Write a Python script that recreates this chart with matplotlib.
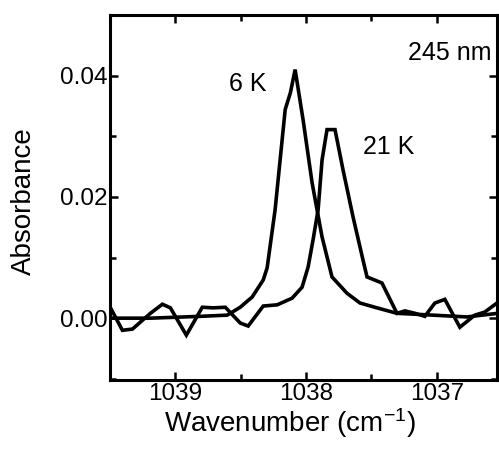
import numpy as np
import matplotlib.pyplot as plt
from matplotlib.ticker import MultipleLocator

plt.rcParams['font.family'] = ['Liberation Sans', 'DejaVu Sans']
plt.rcParams['mathtext.fontset'] = 'custom'
plt.rcParams['mathtext.rm'] = 'Liberation Sans'
plt.rcParams['mathtext.it'] = 'Liberation Sans'

# 6 K spectrum (wavenumber cm-1, absorbance)
wn_6k = [1039.496, 1039.191, 1038.809, 1038.603, 1038.504, 1038.412, 1038.328,
         1038.298, 1038.237, 1038.160, 1038.120, 1038.084, 1038.023, 1037.954,
         1037.878, 1037.802, 1037.687, 1037.588, 1037.458, 1037.305, 1037.031,
         1036.771, 1036.534]
abs_6k = [0.0000, 0.0000, 0.0003, 0.0005, 0.0018, 0.0035, 0.0063,
          0.0083, 0.0179, 0.0344, 0.0372, 0.0410, 0.0327, 0.0223,
          0.0134, 0.0068, 0.0041, 0.0025, 0.0017, 0.0008, 0.0005,
          0.0002, 0.0008]

# 21 K spectrum
wn_21k = [1039.496, 1039.405, 1039.328, 1039.191, 1039.099, 1039.038, 1038.916,
          1038.794, 1038.710, 1038.618, 1038.504, 1038.443, 1038.328, 1038.221,
          1038.107, 1038.031, 1037.985, 1037.947, 1037.908, 1037.878, 1037.840,
          1037.779, 1037.718, 1037.641, 1037.565, 1037.534, 1037.420, 1037.305,
          1037.244, 1037.168, 1037.092, 1037.015, 1036.939, 1036.824, 1036.710,
          1036.634, 1036.534]
abs_21k = [0.0017, -0.0020, -0.0018, 0.0008, 0.0023, 0.0017, -0.0028,
           0.0018, 0.0017, 0.0018, -0.0008, -0.0013, 0.0020, 0.0022,
           0.0033, 0.0051, 0.0084, 0.0129, 0.0179, 0.0261, 0.0311,
           0.0311, 0.0245, 0.0167, 0.0096, 0.0068, 0.0058, 0.0008,
           0.0012, 0.0008, 0.0003, 0.0025, 0.0031, -0.0015, 0.0005,
           0.0010, 0.0026]

fig = plt.figure(figsize=(4.99, 4.58), dpi=100)
ax = fig.add_axes([0.2204, 0.1703, 0.7756, 0.7969])

ax.plot(wn_6k, abs_6k, color='black', lw=2.6, solid_joinstyle='miter')
ax.plot(wn_21k, abs_21k, color='black', lw=2.6, solid_joinstyle='miter')

ax.set_xlim(1039.5, 1036.54)
ax.set_ylim(-0.0102, 0.050)

ax.xaxis.set_major_locator(MultipleLocator(1))
ax.xaxis.set_minor_locator(MultipleLocator(0.5))
ax.yaxis.set_major_locator(MultipleLocator(0.02))
ax.yaxis.set_minor_locator(MultipleLocator(0.01))
ax.yaxis.set_major_formatter(plt.FormatStrFormatter('%.2f'))

ax.tick_params(which='both', direction='in', top=True, right=True, width=1.8)
ax.tick_params(which='major', length=6, labelsize=17.5)
ax.tick_params(which='minor', length=4)
ax.tick_params(axis='y', pad=2)
ax.tick_params(axis='x', pad=2)
for s in ax.spines.values():
    s.set_linewidth(2.2)

ax.set_xlabel('Wavenumber (cm$^{-1}$)', fontsize=20)
ax.set_ylabel('Absorbance', fontsize=20)
ax.xaxis.set_label_coords(0.465, -0.072)
ax.yaxis.set_label_coords(-0.19, 0.49)

ax.text(1038.45, 0.0387, '6 K', fontsize=18, ha='center', va='center')
ax.text(1037.37, 0.0282, '21 K', fontsize=18, ha='center', va='center')
ax.text(1036.9, 0.0437, '245 nm', fontsize=18, ha='center', va='center')

fig.savefig('out.png', dpi=100)
